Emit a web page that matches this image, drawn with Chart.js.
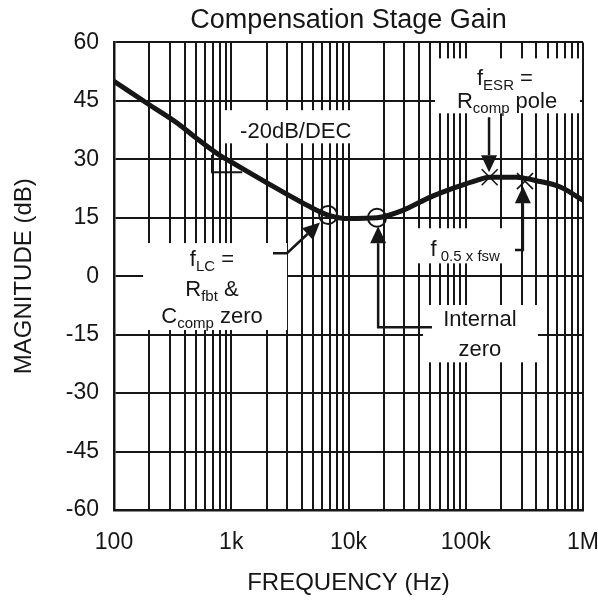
<!DOCTYPE html>
<html>
<head>
<meta charset="utf-8">
<script src="https://cdn.jsdelivr.net/npm/chart.js@4.4.1/dist/chart.umd.min.js"></script>
<style>
  html, body { margin: 0; padding: 0; background: #fff; }
  #wrap { width: 598px; height: 602px; }
</style>
</head>
<body>
<div id="wrap"><canvas id="gainChart" width="598" height="602"></canvas></div>
<script>
// curve (Hz, dB)
const freqs = [100, 200, 350, 500, 800, 1000, 2000, 3000, 4700, 6700, 10000, 17500,
               29000, 50000, 84000, 124000, 160000, 270000, 400000, 640000, 1000000];
const gains = [50, 44, 39.2, 35.5, 31, 29.3, 24, 21, 17.8, 15.7, 14.8, 15.0,
               16.9, 20.3, 22.9, 24.6, 25.4, 25.4, 24.5, 22.9, 19.5];

// axes
const decadeValues = [100, 1000, 10000, 100000, 1000000];
const decadeLabels = ['100', '1k', '10k', '100k', '1M'];
const minorSteps = [1, 2, 3, 4, 5, 6, 7, 8, 9];
const yMin = -60, yMax = 60, yStep = 15;

const FONT = "'Liberation Sans', Arial, Helvetica, sans-serif";
const INK = '#161616';
const MAIN = 22, SUB = 15;

// annotations, in data units (Hz, dB)
const whiteBoxes = [   // [fLeft, fRight, dbTop, dbBottom]
  [834, 13800, 42.6, 34.1],
  [177, 2990, 8.5, -13.8],
  [43200, 413000, -7.4, -22.1],
  [36900, 238000, 12.3, 3.3],
  [54700, 942000, 55.9, 41.8]
];
const circles = [[6700, 15.7], [17500, 15.0]];
const crosses = [[160000, 25.4], [320000, 24.4]];
const arrows = [
  [[2270, 5.9], [2990, 5.9], [5710, 13.8]],
  [[51500, -13.1], [17900, -13.1], [17900, 12.8]],
  [[158000, 40.8], [158000, 26.7]],
  [[263000, 6.7], [307000, 6.7], [307000, 23.1]]
];
const slopeMark = [[685, 31.1], [685, 26.7], [1240, 26.7]];
const notes = [   // anchor, align, parts [text, isSub]
  { at: [1190, 37.4], align: 'left', parts: [['-20dB/DEC', 0]] },
  { at: [685, 4.6], align: 'center', parts: [['f', 0], ['LC', 1], [' =', 0]] },
  { at: [685, -3.1], align: 'center', parts: [['R', 0], ['fbt', 1], [' &', 0]] },
  { at: [685, -10.0], align: 'center', parts: [['C', 0], ['comp', 1], [' zero', 0]] },
  { at: [132000, -10.8], align: 'center', parts: [['Internal', 0]] },
  { at: [132000, -18.5], align: 'center', parts: [['zero', 0]] },
  { at: [50000, 7.2], align: 'left', parts: [['f', 0], [' 0.5 x fsw', 1]] },
  { at: [216000, 51.0], align: 'center', parts: [['f', 0], ['ESR', 1], [' =', 0]] },
  { at: [225000, 45.1], align: 'center', parts: [['R', 0], ['comp', 1], [' pole', 0]] }
];

function pt(chart, f, db) {
  return [chart.scales.x.getPixelForValue(f), chart.scales.y.getPixelForValue(db)];
}

function arrowHead(ctx, from, tip, len, half) {
  const a = Math.atan2(tip[1] - from[1], tip[0] - from[0]);
  const bx = tip[0] - len * Math.cos(a), by = tip[1] - len * Math.sin(a);
  ctx.beginPath();
  ctx.moveTo(tip[0], tip[1]);
  ctx.lineTo(bx + half * Math.sin(a), by - half * Math.cos(a));
  ctx.lineTo(bx - half * Math.sin(a), by + half * Math.cos(a));
  ctx.closePath();
  ctx.fill();
  return [bx, by];
}

function drawRich(ctx, parts, x, y, align) {
  let w = 0;
  parts.forEach(p => {
    ctx.font = (p[1] ? SUB : MAIN) + 'px ' + FONT;
    w += ctx.measureText(p[0]).width;
  });
  let cx = align === 'left' ? x : x - w / 2;
  const base = y + 0.36 * MAIN;
  parts.forEach(p => {
    ctx.font = (p[1] ? SUB : MAIN) + 'px ' + FONT;
    ctx.fillText(p[0], cx, p[1] ? base + 5 : base);
    cx += ctx.measureText(p[0]).width;
  });
}

const notesPlugin = {
  id: 'notes',
  beforeDatasetsDraw(chart) {
    const ctx = chart.ctx;
    ctx.save();
    ctx.fillStyle = '#fff';
    whiteBoxes.forEach(b => {
      const p1 = pt(chart, b[0], b[2]);
      const p2 = pt(chart, b[1], b[3]);
      ctx.fillRect(p1[0], p1[1], p2[0] - p1[0], p2[1] - p1[1]);
    });
    ctx.restore();
  },
  afterDatasetsDraw(chart) {
    const ctx = chart.ctx;
    ctx.save();
    ctx.strokeStyle = INK;
    ctx.fillStyle = INK;

    // slope triangle
    ctx.lineWidth = 2;
    ctx.beginPath();
    slopeMark.forEach((d, i) => {
      const p = pt(chart, d[0], d[1]);
      i ? ctx.lineTo(p[0], p[1]) : ctx.moveTo(p[0], p[1]);
    });
    ctx.stroke();

    // circles
    circles.forEach(c => {
      const p = pt(chart, c[0], c[1]);
      ctx.beginPath();
      ctx.arc(p[0], p[1], 9, 0, Math.PI * 2);
      ctx.stroke();
    });

    // crosses
    ctx.lineWidth = 1.6;
    crosses.forEach(c => {
      const p = pt(chart, c[0], c[1]);
      ctx.beginPath();
      ctx.moveTo(p[0] - 8, p[1] - 8); ctx.lineTo(p[0] + 8, p[1] + 8);
      ctx.moveTo(p[0] + 8, p[1] - 8); ctx.lineTo(p[0] - 8, p[1] + 8);
      ctx.stroke();
    });

    // arrows
    ctx.lineWidth = 2.5;
    arrows.forEach(a => {
      const ps = a.map(d => pt(chart, d[0], d[1]));
      const tip = ps[ps.length - 1];
      const base = arrowHead(ctx, ps[ps.length - 2], tip, 17, 8);
      ctx.beginPath();
      ctx.moveTo(ps[0][0], ps[0][1]);
      for (let i = 1; i < ps.length - 1; i++) ctx.lineTo(ps[i][0], ps[i][1]);
      ctx.lineTo(base[0], base[1]);
      ctx.stroke();
    });

    // texts
    notes.forEach(n => {
      const p = pt(chart, n.at[0], n.at[1]);
      drawRich(ctx, n.parts, p[0], p[1], n.align);
    });
    ctx.restore();
  }
};

const ctx = document.getElementById('gainChart').getContext('2d');
const chart = new Chart(ctx, {
  type: 'line',
  data: {
    datasets: [{
      data: freqs.map((f, i) => ({ x: f, y: gains[i] })),
      borderColor: INK,
      borderWidth: 5,
      pointRadius: 0,
      cubicInterpolationMode: 'monotone',
      borderJoinStyle: 'round',
      borderCapStyle: 'round'
    }]
  },
  options: {
    responsive: false,
    animation: false,
    devicePixelRatio: 1,
    layout: { padding: { left: 0, right: 15, top: 0, bottom: 0 } },
    plugins: {
      legend: { display: false },
      tooltip: { enabled: false },
      title: {
        display: true,
        fullSize: false,
        text: 'Compensation Stage Gain',
        color: INK,
        font: { family: FONT, size: 27, weight: 'normal' },
        padding: { top: 4, bottom: 6 }
      }
    },
    scales: {
      x: {
        type: 'logarithmic',
        min: 100,
        max: 1000000,
        afterBuildTicks: (scale) => {
          const vals = [];
          decadeValues.slice(0, -1).forEach(d => minorSteps.forEach(m => vals.push(m * d)));
          vals.push(decadeValues[decadeValues.length - 1]);
          scale.ticks = vals.map(v => ({ value: v }));
        },
        afterFit: (scale) => {
          scale.height = 92;
          scale.paddingLeft = 0;
          scale.paddingRight = 0;
        },
        ticks: {
          autoSkip: false,
          maxRotation: 0,
          padding: 19,
          color: INK,
          font: { family: FONT, size: 23 },
          callback: (v) => {
            const i = decadeValues.indexOf(v);
            return i >= 0 ? decadeLabels[i] : '';
          }
        },
        grid: { color: INK, lineWidth: 2, drawTicks: false },
        border: { color: INK, width: 2.5 },
        title: {
          display: true,
          text: 'FREQUENCY (Hz)',
          color: INK,
          font: { family: FONT, size: 24 },
          padding: { top: 0, bottom: 4 }
        }
      },
      y: {
        min: yMin,
        max: yMax,
        afterFit: (scale) => { scale.width = 114; },
        ticks: {
          stepSize: yStep,
          padding: 15,
          color: INK,
          font: { family: FONT, size: 23 }
        },
        grid: { color: INK, lineWidth: 2, drawTicks: false },
        border: { color: INK, width: 2.5 },
        title: {
          display: true,
          text: 'MAGNITUDE (dB)',
          color: INK,
          font: { family: FONT, size: 24 },
          padding: { top: 10, bottom: 0 }
        }
      }
    }
  },
  plugins: [notesPlugin]
});
</script>
</body>
</html>
